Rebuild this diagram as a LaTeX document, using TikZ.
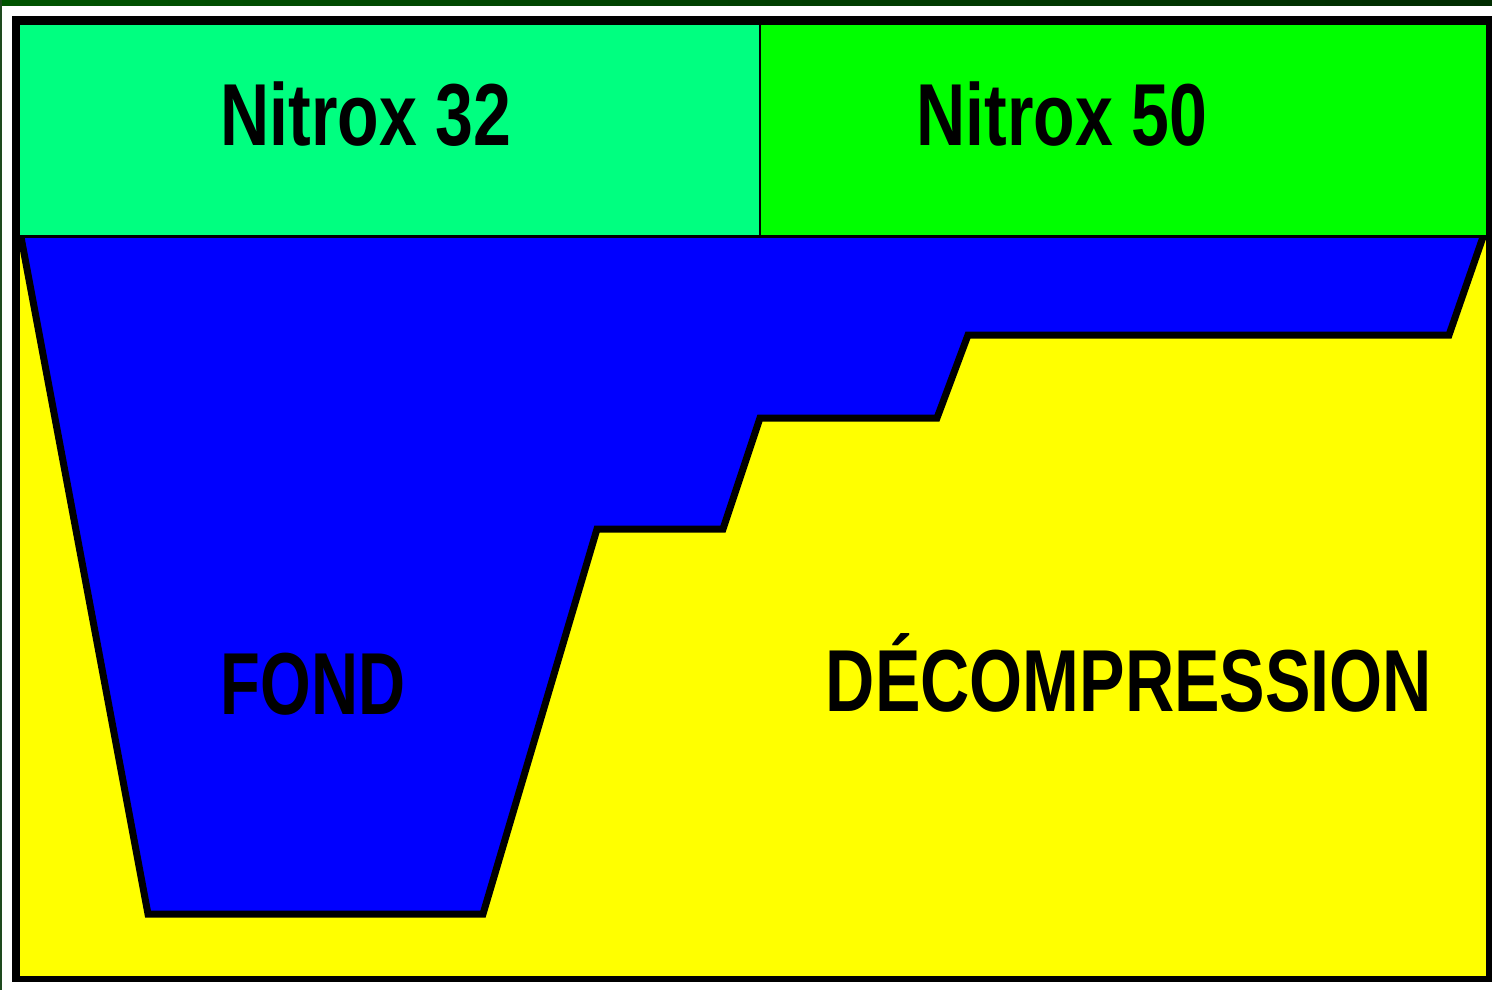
\documentclass[tikz,border=0pt]{standalone}
\usepackage{fontspec}
\setmainfont{Liberation Sans}
\usepackage{graphicx}

\definecolor{nitroxA}{HTML}{00FF80}
\definecolor{nitroxB}{HTML}{00FF00}
\definecolor{fondblue}{HTML}{0000FF}
\definecolor{decoyellow}{HTML}{FFFF00}
\definecolor{bandleft}{HTML}{005400}
\definecolor{bandright}{HTML}{002C00}
\definecolor{edgegreen}{HTML}{1E4A1E}

\tikzset{
  zone label/.style={anchor=base, inner sep=0pt, text=black,
    font=\fontsize{88}{88}\selectfont\bfseries},
  profile line/.style={draw=black, line width=7pt, line join=miter},
}

\begin{document}
\begin{tikzpicture}[x=1pt, y=-1pt]
  \useasboundingbox (0,0) rectangle (1492,990);
  % page background and top band
  \fill[white] (0,0) rectangle (1492,990);
  \shade[left color=bandleft, right color=bandright] (0,0) rectangle (1492,6);
  \fill[edgegreen] (0,0) rectangle (1.5,990);

  % outer black frame
  \fill[black] (12,16) rectangle (1492,982);
  \fill[decoyellow] (20,25) rectangle (1486,976);

  % dive profile: bottom phase and decompression stops
  \coordinate (p0) at (21,237);
  \coordinate (p1) at (148,914);
  \coordinate (p2) at (483,914);
  \coordinate (p3) at (597,529);
  \coordinate (p4) at (723,529);
  \coordinate (p5) at (760,418);
  \coordinate (p6) at (937,418);
  \coordinate (p7) at (968,335);
  \coordinate (p8) at (1449,335);
  \coordinate (p9) at (1483,237);
  \fill[fondblue] (20,237) -- (p0) -- (p1) -- (p2) -- (p3) -- (p4) -- (p5)
    -- (p6) -- (p7) -- (p8) -- (p9) -- (1486,237) -- cycle;
  \draw[profile line] (p0) -- (p1) -- (p2) -- (p3) -- (p4) -- (p5)
    -- (p6) -- (p7) -- (p8) -- (p9);

  % gas header
  \fill[nitroxA] (20,25) rectangle (760,236.5);
  \fill[nitroxB] (760,25) rectangle (1486,236.5);
  \draw[black, line width=3pt] (20,236.5) -- (1486,236.5);
  \draw[black, line width=2.5pt] (760,25) -- (760,236.5);

  % labels
  \node[zone label] (n32) at (366,145.5) {\scalebox{0.773}[1]{Nitrox 32}};
  \node[zone label] (n50) at (1062,145.5) {\scalebox{0.773}[1]{Nitrox 50}};
  \node[zone label] (fond) at (313,714.5) {\scalebox{0.74}[1]{FOND}};
  \node[zone label] (deco) at (1129,711.5) {\scalebox{0.775}[1]{DÉCOMPRESSION}};
\end{tikzpicture}
\end{document}
